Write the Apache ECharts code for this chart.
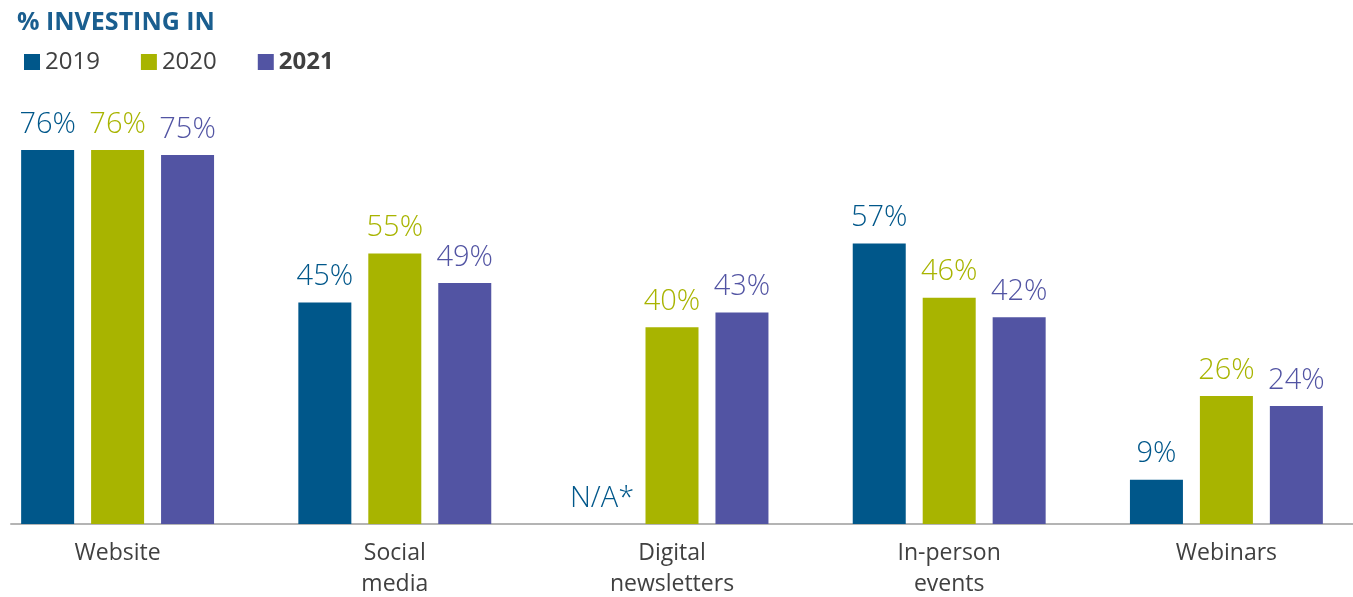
<!DOCTYPE html>
<html style="height: 100%">
<head>
<meta charset="utf-8">
<script src="https://cdn.jsdelivr.net/npm/echarts@6/dist/echarts.min.js"></script>
</head>
<body style="height: 100%; margin: 0; background: #fff;">
<div id="main" style="width:1353px;height:597px;"></div>
<script>
var categories = ['Website', 'Social\nmedia', 'Digital\nnewsletters', 'In-person\nevents', 'Webinars'];
var years = ['2019', '2020', '2021'];
var values2019 = [76, 45, null, 57, 9];
var values2020 = [76, 55, 40, 46, 26];
var values2021 = [75, 49, 43, 42, 24];
var colors = ['#00578a', '#a8b400', '#5254a3'];

var font = 'Open Sans';
var chart = echarts.init(document.getElementById('main'));

function makeSeries(name, vals, color) {
    return {
        name: name,
        type: 'bar',
        barWidth: 53,
        barGap: '32%',
        itemStyle: { color: color },
        label: {
            show: true,
            position: 'top',
            distance: 11,
            color: color,
            fontFamily: font,
            fontWeight: 300,
            fontSize: 29,
            formatter: '{c}%'
        },
        data: vals.map(function (v) {
            if (v === null) {
                return { value: 0, label: { formatter: 'N/A*' } };
            }
            return v;
        })
    };
}

var option = {
    animation: false,
    title: {
        text: '% INVESTING IN',
        left: 12,
        top: 5,
        textStyle: { color: '#1a5e8f', fontFamily: font, fontWeight: 'bold', fontSize: 25 }
    },
    legend: {
        left: 19,
        top: 45,
        itemWidth: 16,
        itemHeight: 16,
        itemGap: 41,
        icon: 'rect',
        data: years,
        formatter: function (n) { return n === '2021' ? '{b|' + n + '}' : n; },
        textStyle: {
            color: '#404040',
            fontFamily: font,
            fontSize: 24,
            rich: { b: { fontWeight: 'bold', fontSize: 24, fontFamily: font, color: '#404040' } }
        }
    },
    grid: [
        { left: -21, width: 1386, top: 32, bottom: 73, outerBoundsMode: 'none' },
        { left: 11, right: 0, top: 524, height: 0, outerBoundsMode: 'none' }
    ],
    xAxis: [{
        type: 'category',
        data: categories,
        gridIndex: 0,
        axisLine: { show: false },
        axisTick: { show: false },
        axisLabel: {
            color: '#404040',
            fontFamily: font,
            fontSize: 23,
            lineHeight: 31,
            margin: 14
        }
    }, {
        type: 'value',
        gridIndex: 1,
        axisLine: { show: true, onZero: false, lineStyle: { color: '#b4b4b4', width: 2 } },
        axisTick: { show: false },
        axisLabel: { show: false },
        splitLine: { show: false }
    }],
    yAxis: [{
        type: 'value',
        gridIndex: 0,
        min: 0,
        max: 100,
        show: false
    }, {
        type: 'value',
        gridIndex: 1,
        show: false
    }],
    series: [
        makeSeries(years[0], values2019, colors[0]),
        makeSeries(years[1], values2020, colors[1]),
        makeSeries(years[2], values2021, colors[2])
    ]
};
chart.setOption(option);
</script>
</body>
</html>
